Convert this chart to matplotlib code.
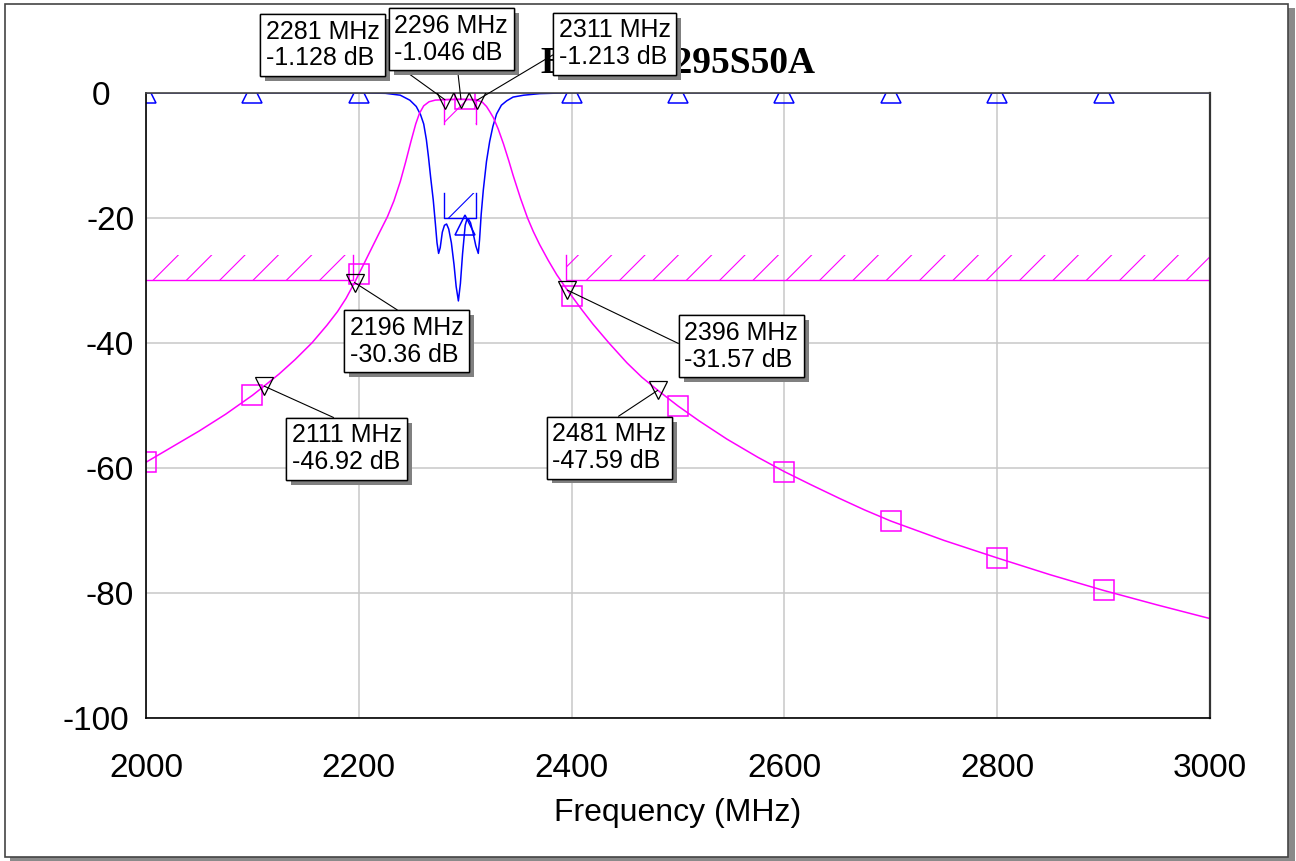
import matplotlib
matplotlib.use('Agg')
import matplotlib.pyplot as plt
import matplotlib.patheffects as pe
import matplotlib.transforms as mtransforms
from matplotlib.patches import Rectangle

plt.rcParams['font.family'] = ['Liberation Sans', 'DejaVu Sans']
plt.rcParams['axes.unicode_minus'] = False
plt.rcParams['hatch.linewidth'] = 0.8

# S21 (magenta)
s21_freq = [2000, 2025, 2050, 2075, 2100, 2111, 2125, 2140, 2156, 2170, 2180, 2188, 2196,
            2200, 2205, 2212, 2219, 2227, 2233, 2239, 2244, 2249, 2253.5, 2257, 2261, 2266,
            2272, 2281, 2288, 2296, 2300, 2304, 2311, 2316, 2320, 2323, 2326.5, 2331, 2336,
            2341, 2345, 2352, 2358.5, 2364, 2370, 2378, 2386, 2396, 2400, 2410, 2420, 2435,
            2452, 2466, 2481, 2500, 2520, 2546, 2575, 2600, 2625, 2652, 2675, 2700, 2750,
            2800, 2850, 2900, 2950, 3000]
s21_db = [-59.1, -56.6, -54.1, -51.4, -48.4, -46.92, -45.0, -42.7, -40.0, -37.2, -35.0, -32.9, -30.36,
          -29.0, -27.3, -24.9, -22.5, -19.8, -17.3, -14.2, -11.1, -7.8, -5.0, -3.3, -2.1, -1.45,
          -1.18, -1.128, -1.07, -1.046, -1.06, -1.09, -1.213, -1.5, -2.2, -3.0, -4.0, -5.8, -8.2,
          -10.9, -13.2, -16.9, -20.0, -22.2, -24.3, -26.8, -29.1, -31.57, -32.5, -34.8, -37.0, -40.0,
          -43.2, -45.5, -47.59, -50.1, -52.5, -55.4, -58.3, -60.6, -62.7, -64.9, -66.7, -68.5, -71.6,
          -74.4, -77.1, -79.6, -81.9, -84.1]

# S11 (blue)
s11_freq = [2000, 2100, 2200, 2225, 2239, 2248, 2254, 2258, 2261, 2263.5, 2265.5, 2267.5, 2270,
            2272, 2273.5, 2275, 2276.5, 2278.5, 2280.5, 2282.5, 2284.5, 2287, 2289.5, 2291.5,
            2293.6, 2295.5, 2297.5, 2300, 2301.5, 2303, 2305, 2307.5, 2310, 2312.3, 2313.5, 2315,
            2317, 2320, 2323, 2326, 2329.5, 2334, 2339, 2345, 2355, 2370, 2400, 2500, 2600,
            2700, 2800, 2900, 3000]
s11_db = [0, 0, -0.02, -0.1, -0.4, -1.2, -2.2, -3.5, -5.0, -7.5, -10.3, -13.5, -17.2,
          -21.0, -24.0, -25.7, -24.8, -22.3, -21.2, -21.0, -21.8, -24.0, -27.5, -31.0,
          -33.3, -30.5, -25.8, -21.2, -20.3, -20.2, -20.8, -22.5, -24.5, -25.7, -23.5, -19.5,
          -15.6, -11.0, -7.8, -5.4, -3.4, -2.0, -1.3, -0.7, -0.4, -0.15, 0, 0, 0,
          0, 0, 0, 0]

symbol_freq = [2000, 2100, 2200, 2300, 2400, 2500, 2600, 2700, 2800, 2900]

# marker readouts: frequency, value, text position (data), leader attach point
mk_freq = [2281, 2296, 2311, 2196, 2396, 2111, 2481]
mk_db = [-1.128, -1.046, -1.213, -30.36, -31.57, -46.92, -47.59]
mk_text_x = [2112.5, 2233.5, 2388.0, 2191.5, 2506.0, 2137.0, 2382.0]
mk_text_y = [11.7, 12.6, 11.9, -35.7, -36.5, -52.9, -52.7]
mk_relpos = [(1, 0.35), (0.55, 0), (0, 0.35), (0.5, 1), (0, 0.5), (0.5, 1), (0.5, 1)]

# spec masks
stop_lo = [2000, 2195]
stop_hi = [2395, 3000]
stop_level = -30
pass_band = [2280, 2310]
pass_level = -1
rl_level = -20
mask_depth = 4

yticks = [0, -20, -40, -60, -80, -100]
xticks = [2000, 2200, 2400, 2600, 2800, 3000]

fig = plt.figure(figsize=(12.96, 8.61), dpi=100)
W, H = 1296, 861

# outer frame with drop shadow
fig.patches.append(Rectangle((10 / W, 1 - 861 / H), 1285 / W, 853 / H, transform=fig.transFigure,
                             facecolor='#8a8a8a', edgecolor='none', zorder=-3))
fig.patches.append(Rectangle((5 / W, 1 - 857 / H), 1283 / W, 853 / H, transform=fig.transFigure,
                             facecolor='white', edgecolor='#444444', lw=1.2, zorder=-2))

ax = fig.add_axes([146 / W, 1 - 718 / H, 1064 / W, (718 - 92.7) / H])
ax.set_xlim(2000, 3000)
ax.set_ylim(-100, 0)

ax.grid(True, color='#c8c8c8', lw=1.1)
ax.set_axisbelow(True)

# spec masks
mag = '#ff00ff'
blue = '#0000ff'
ax.fill_between(stop_lo, stop_level, stop_level + mask_depth, facecolor='none', edgecolor=mag, hatch='/', lw=0)
ax.plot([stop_lo[0], stop_lo[1], stop_lo[1]], [stop_level, stop_level, stop_level + mask_depth], color=mag, lw=1)
ax.fill_between(stop_hi, stop_level, stop_level + mask_depth, facecolor='none', edgecolor=mag, hatch='/', lw=0)
ax.plot([stop_hi[0], stop_hi[0], stop_hi[1]], [stop_level + mask_depth, stop_level, stop_level], color=mag, lw=1)
ax.fill_between(pass_band, pass_level - mask_depth, pass_level, facecolor='none', edgecolor=mag, hatch='/', lw=0)
ax.plot([pass_band[0], pass_band[0], pass_band[1], pass_band[1]],
        [pass_level - mask_depth, pass_level, pass_level, pass_level - mask_depth], color=mag, lw=1)
ax.fill_between(pass_band, rl_level, rl_level + mask_depth, facecolor='none', edgecolor=blue, hatch='/', lw=0)
ax.plot([pass_band[0], pass_band[0], pass_band[1], pass_band[1]],
        [rl_level + mask_depth, rl_level, rl_level, rl_level + mask_depth], color=blue, lw=1)

# traces
ax.plot(s11_freq, s11_db, color=blue, lw=1.1, marker='^', ms=14, mfc='none', mew=1.1,
        markevery=[s11_freq.index(f) for f in symbol_freq])
ax.plot(s21_freq, s21_db, color=mag, lw=1.1, marker='s', ms=14, mfc='none', mew=1.1,
        markevery=[s21_freq.index(f) for f in symbol_freq])

# marker triangles
ax.plot(mk_freq, mk_db, 'v', ms=13.5, mfc='none', mec='black', mew=0.9, zorder=6)

for f, d, tx, ty, rp in zip(mk_freq, mk_db, mk_text_x, mk_text_y, mk_relpos):
    ann = ax.annotate(f'{f} MHz\n{d} dB', xy=(f, d), xytext=(tx, ty), textcoords='data',
                      ha='left', va='top', fontsize=18, linespacing=1.15,
                      bbox=dict(boxstyle='square,pad=0.22', fc='white', ec='black', lw=1),
                      arrowprops=dict(arrowstyle='-', color='black', lw=0.8, shrinkA=0, shrinkB=0, relpos=rp),
                      zorder=10, annotation_clip=False)
    ann.get_bbox_patch().set_path_effects(
        [pe.withSimplePatchShadow(offset=(3.5, -3.5), shadow_rgbFace='#808080', alpha=1), pe.Normal()])

ax.set_title('BFCN-2295S50A', fontfamily='Liberation Serif', fontweight='bold', fontsize=27, pad=14)

ax.set_xticks(xticks)
ax.set_xticklabels([str(t) for t in xticks])
ax.set_yticks(yticks)
ax.set_yticklabels([str(t) for t in yticks])
ax.tick_params(axis='both', length=0, labelsize=24)
ax.tick_params(axis='x', pad=25)
ax.tick_params(axis='y', pad=8.5)
ax.set_xlabel('Frequency (MHz)', fontsize=23, labelpad=10)

# the "0" and "-100" labels sit further left in the original
shift = {'0': -24, '-100': -5}
for lab in ax.get_yticklabels():
    dx = shift.get(lab.get_text(), 0)
    if dx:
        lab.set_transform(lab.get_transform() + mtransforms.ScaledTranslation(dx / 100, 0, fig.dpi_scale_trans))

for s in ['left', 'bottom']:
    ax.spines[s].set_color('black')
    ax.spines[s].set_linewidth(1.2)
ax.spines['top'].set_color('#444444')
ax.spines['top'].set_linewidth(1.2)
ax.spines['right'].set_color('#333333')
ax.spines['right'].set_linewidth(1.6)

plt.savefig('out.png', dpi=100)
